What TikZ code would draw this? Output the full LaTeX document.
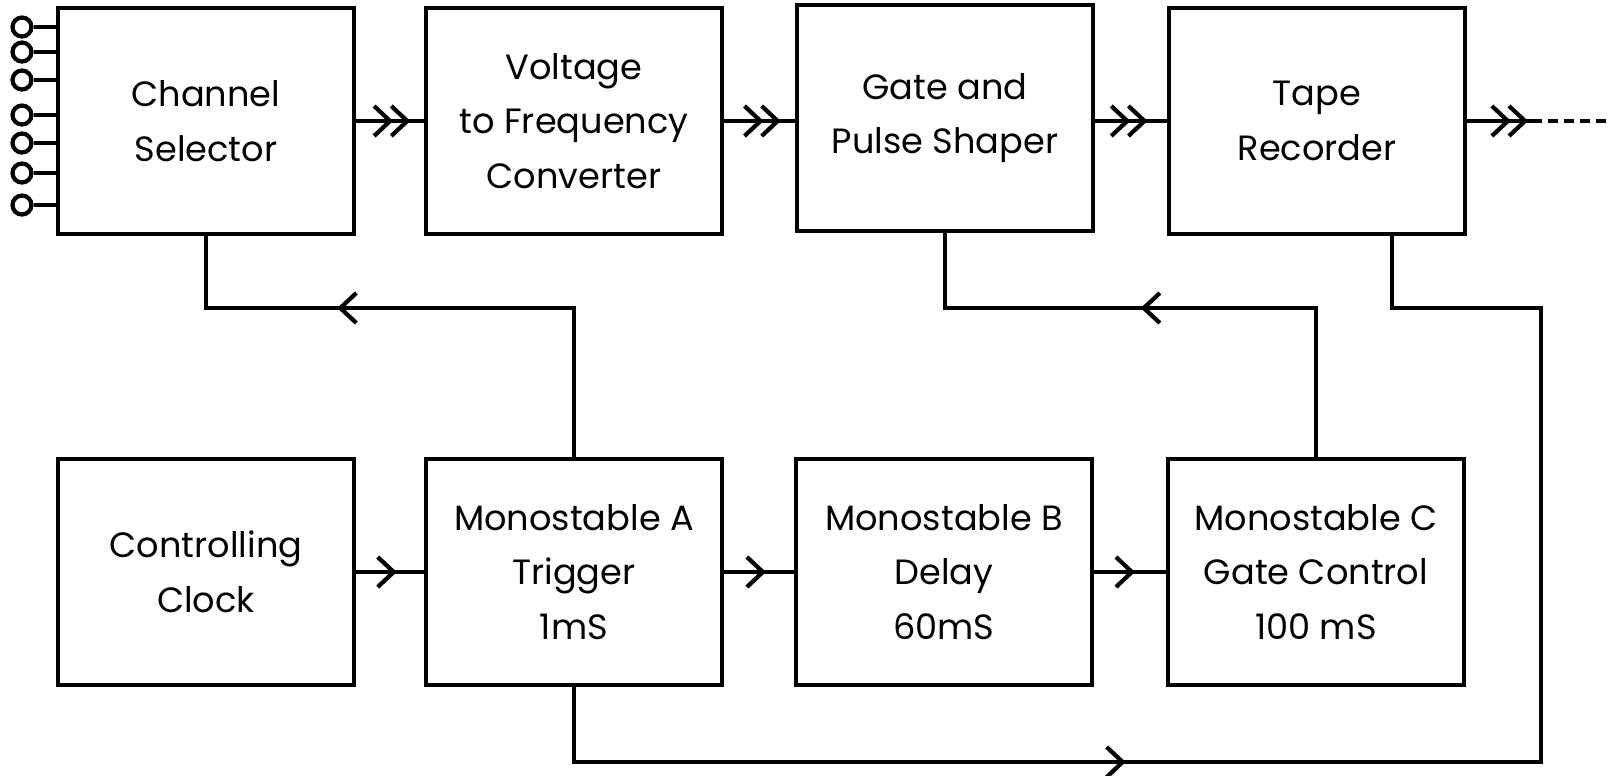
\documentclass[tikz,border=0pt]{standalone}
\usepackage{fontspec}
\setmainfont{Poppins}
\usetikzlibrary{arrows.meta,calc,decorations.markings}
\tikzset{
  blk/.style={draw,line width=2.4pt,minimum width=5.92cm,minimum height=4.52cm,
    align=center,inner sep=0pt,font=\fontsize{20}{31}\selectfont},
  wire/.style={line width=2.4pt},
  term/.style={circle,draw,line width=2.4pt,minimum size=0.38cm,inner sep=0pt},
  one/.style={postaction={decorate},decoration={markings,
    mark=at position #1 with {\arrow{Straight Barb[length=3.2mm,width=6mm]}}}},
  two/.style={postaction={decorate},decoration={markings,
    mark=at position #1 with {\arrow{Straight Barb[length=3.2mm,width=6mm,sep=-0.8mm]Straight Barb[length=3.2mm,width=6mm]}}}},
}
\begin{document}
\begin{tikzpicture}[x=0.02cm,y=-0.02cm]
  \useasboundingbox (0,0) rectangle (1611,775);
  % top row
  \node[blk] (cs) at (206,121)  {Channel\\Selector};
  \node[blk] (vf) at (574,121)  {Voltage\\to Frequency\\Converter};
  \node[blk] (gp) at (945,118)  {Gate and\\Pulse Shaper};
  \node[blk] (tr) at (1317,121) {Tape\\Recorder};
  % bottom row
  \node[blk] (cc) at (206,572)  {Controlling\\Clock};
  \node[blk] (ma) at (574,572)  {Monostable A\\Trigger\\1mS};
  \node[blk] (mb) at (944,572)  {Monostable B\\Delay\\60mS};
  \node[blk] (mc) at (1316,572) {Monostable C\\Gate Control\\100 mS};
  % input terminals
  \foreach \i/\y in {1/27,2/52,3/80,4/115,5/143,6/173,7/205}{
    \node[term] (t\i) at (22,\y) {};
    \draw[wire] (t\i.east) -- (t\i.east -| cs.west);
  }
  % signal chain
  \draw[wire,two=0.8]  (cs.east) -- (vf.west);
  \draw[wire,two=0.8]  (vf.east) -- (vf.east -| gp.west);
  \draw[wire,two=0.73] (gp.east |- tr.west) -- (tr.west);
  \coordinate (outa) at (1532,121);
  \coordinate (outb) at (1611,121);
  \draw[wire,two=0.94] (tr.east) -- (outa);
  \draw[wire,dash pattern=on 5.5pt off 3.6pt] (outa) -- (outb);
  % timing chain
  \draw[wire,one=0.6]  (cc.east) -- (ma.west);
  \draw[wire,one=0.6]  (ma.east) -- (mb.west);
  \draw[wire,one=0.57] (mb.east) -- (mc.west);
  % feedback loops
  \coordinate (trout) at ($(tr.south)+(75,0)$);
  \draw[wire,one=0.655] (ma.north) -- (ma.north |- 0,308) -| (cs.south);
  \draw[wire,one=0.545] (mc.north) -- (mc.north |- 0,308) -| (gp.south);
  \draw[wire,one=0.365] (ma.south) -- (ma.south |- 0,762) -- (1541,762)
    -- (1541,308) -| (trout);
\end{tikzpicture}
\end{document}
